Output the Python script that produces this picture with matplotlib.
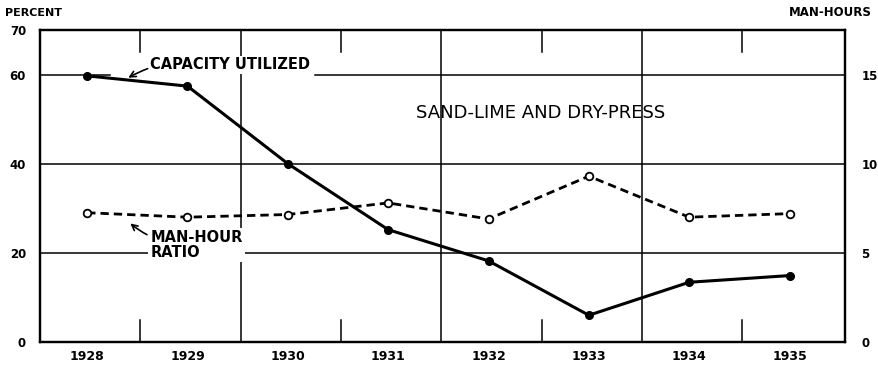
import matplotlib.pyplot as plt

years = [1928, 1929, 1930, 1931, 1932, 1933, 1934, 1935]
capacity_utilized = [59.7, 57.4, 40.0, 25.2, 18.2, 6.0, 13.4, 14.9]   # percent
man_hour_ratio = [7.25, 7.0, 7.15, 7.8, 6.9, 9.3, 7.0, 7.2]          # man-hours

percent_ticks = [0, 20, 40, 60, 70]
manhour_ticks = [0, 5, 10, 15]

plt.rcParams['font.family'] = 'DejaVu Sans'
plt.rcParams['font.weight'] = 'bold'

fig = plt.figure(figsize=(8.79, 3.70), dpi=100)
ax = fig.add_axes([0.0455, 0.0757, 0.9155, 0.8433])
ax.set_xlim(1927.53, 1935.55)
ax.set_ylim(0, 70)

# right-hand scale: 4 percent per man-hour
ax2 = ax.twinx()
ax2.set_ylim(0, 70 / 4)

for a in (ax, ax2):
    for s in a.spines.values():
        s.set_linewidth(1.6)
        s.set_color('black')

# horizontal rules (the 60 rule is left open behind the first segment)
ax.axhline(60, xmax=0.087, color='black', lw=1.1, zorder=1)
ax.axhline(60, xmin=0.342, color='black', lw=1.1, zorder=1)
for v in (20, 40):
    ax.axhline(v, color='black', lw=1.1, zorder=1)
# full-height year dividers and short half ticks
for xv in (1929.53, 1931.53, 1933.53):
    ax.axvline(xv, color='black', lw=1.1, zorder=1)
for xv in (1928.53, 1930.53, 1932.53, 1934.53):
    ax.plot([xv, xv], [0, 5], color='black', lw=1.1, zorder=1)
    ax.plot([xv, xv], [65, 70], color='black', lw=1.1, zorder=1)

ax.plot(years, capacity_utilized, color='black', lw=2.2, marker='o',
        markersize=5.5, markerfacecolor='black', zorder=3)
ax2.plot(years, man_hour_ratio, color='black', lw=2.0, ls=(0, (3, 1.8)),
         marker='o', markersize=5.5, markerfacecolor='white',
         markeredgewidth=1.3, zorder=3)

ax.set_xticks(years)
ax.set_xticklabels([str(y) for y in years], fontsize=9, fontweight='bold')
ax.set_yticks(percent_ticks)
ax.set_yticklabels([str(t) for t in percent_ticks], fontsize=8.5, fontweight='bold')
ax2.set_yticks(manhour_ticks)
ax2.set_yticklabels([str(t) for t in manhour_ticks], fontsize=8.5, fontweight='bold')
ax.tick_params(axis='x', length=0, pad=6)
ax.tick_params(axis='y', length=0, pad=10)
ax2.tick_params(axis='y', length=0, pad=12)

fig.text(0.006, 0.965, 'PERCENT', fontsize=8, fontweight='bold', va='center')
fig.text(0.992, 0.965, 'MAN-HOURS', fontsize=8.5, fontweight='bold',
         va='center', ha='right')

ax.text(1932.52, 51.3, 'SAND-LIME AND DRY-PRESS', fontsize=13,
        ha='center', va='center', fontweight='normal')

ax.annotate('CAPACITY UTILIZED', xy=(1928.41, 59.3), xytext=(1928.63, 62.2),
            fontsize=10.5, fontweight='bold', va='center', ha='left',
            bbox=dict(boxstyle='square,pad=0.1', fc='white', ec='none'),
            arrowprops=dict(arrowstyle='->', color='black', lw=1.2,
                            shrinkA=1, shrinkB=0,
                            connectionstyle='arc3,rad=0.2'),
            zorder=4)
ax.annotate('MAN-HOUR\nRATIO', xy=(1928.43, 26.6), xytext=(1928.63, 21.8),
            fontsize=10.5, fontweight='bold', va='center', ha='left',
            linespacing=1.0,
            bbox=dict(boxstyle='square,pad=0.15', fc='white', ec='none'),
            arrowprops=dict(arrowstyle='->', color='black', lw=1.2,
                            shrinkA=1, shrinkB=0,
                            connectionstyle='arc3,rad=-0.2'),
            zorder=4)

fig.savefig('out.png', dpi=100)
